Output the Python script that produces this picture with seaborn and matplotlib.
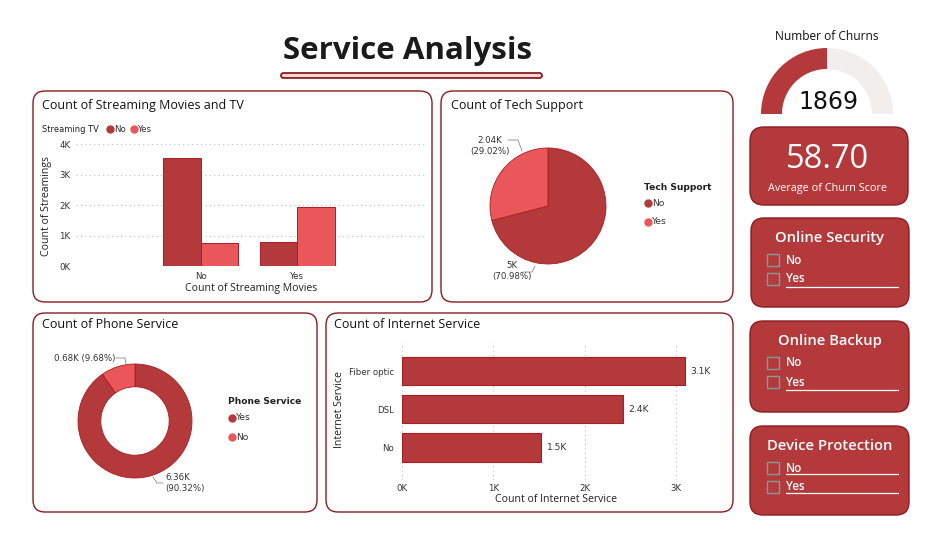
import numpy as np
import pandas as pd
import matplotlib.pyplot as plt
import seaborn as sns
from matplotlib.patches import FancyBboxPatch, Rectangle
from matplotlib.ticker import FuncFormatter, FixedLocator

# Datos
movies = ["No", "No", "Yes", "Yes"]
stream_tv = ["No", "Yes", "No", "Yes"]
stream_counts = [3544, 758, 800, 1941]

tech_labels = ["No", "Yes"]
tech_counts = [4999, 2044]
tech_text = ["5K\n(70.98%)", "2.04K\n(29.02%)"]

phone_labels = ["Yes", "No"]
phone_counts = [6361, 682]

internet_labels = ["Fiber optic", "DSL", "No"]
internet_counts = [3096, 2421, 1526]

churns = 1869
churn_max = 3738
churn_score = 58.70

slicers = [("Online Security", ["No", "Yes"]),
           ("Online Backup", ["No", "Yes"]),
           ("Device Protection", ["No", "Yes"])]

# Colores
DARK = "#B4393B"
LIGHT = "#E9575A"
EDGE = "#A81E22"
BORDER = "#8A1C1E"
GAUGE_BG = "#F1EFED"

sns.set_theme(style="white")
plt.rcParams["font.family"] = ["Open Sans", "DejaVu Sans"]

W, H = 937, 543
fig = plt.figure(figsize=(W / 100, H / 100), dpi=100)
fig.patch.set_facecolor("white")

# capa de fondo en pixeles
bg = fig.add_axes([0, 0, 1, 1])
bg.set_xlim(0, W)
bg.set_ylim(H, 0)
bg.axis("off")


def px_axes(x0, y0, x1, y1):
    ax = fig.add_axes([x0 / W, 1 - y1 / H, (x1 - x0) / W, (y1 - y0) / H])
    ax.set_facecolor("none")
    return ax


def panel(x0, y0, x1, y1, fc="white", ec=BORDER, r=12):
    bg.add_patch(FancyBboxPatch((x0, y0), x1 - x0, y1 - y0,
                                boxstyle=f"round,pad=0,rounding_size={r}",
                                fc=fc, ec=ec, lw=1.0))


def kfmt(v, pos=None):
    return f"{int(round(v / 1000))}K"


small = dict(fontsize=6.2, family="DejaVu Sans", color="#333333")
axis_title = dict(fontsize=7.6, color="#222222")
ptitle = dict(fontsize=9.0, color="#111111", va="center")

# Titulo
bg.text(408, 51, "Service Analysis", ha="center", va="center",
        fontsize=22.5, fontweight="bold", color="#1a1a1a")
bg.add_patch(FancyBboxPatch((281, 73), 261, 5, boxstyle="round,pad=0,rounding_size=2.5",
                            fc="#F6D6D6", ec=BORDER, lw=1.3))

# Paneles
panel(33, 91, 432, 302)
panel(441, 91, 733, 302)
panel(33, 313, 317, 512)
panel(326, 313, 733, 512)

# ---- Streaming Movies and TV
bg.text(42, 106, "Count of Streaming Movies and TV", **ptitle)
bg.text(42, 129, "Streaming TV", va="center", fontsize=6.0, color="#222222",
        family="DejaVu Sans")
for xx, lab, col in [(110, "No", DARK), (134, "Yes", LIGHT)]:
    bg.plot(xx, 129, "o", ms=5, color=col)
    bg.text(xx + 4, 129, lab, va="center", **small)

df_st = pd.DataFrame({"Movies": movies, "TV": stream_tv, "Count": stream_counts})
ax1 = px_axes(76, 144, 425, 266)
sns.barplot(data=df_st, x="Movies", y="Count", hue="TV", palette=[DARK, LIGHT],
            saturation=1, width=0.77, edgecolor=EDGE, linewidth=0.7, legend=False, ax=ax1)
ax1.set_xlim(-1.29, 2.32)
ax1.set_ylim(0, 4000)
ax1.yaxis.set_major_locator(FixedLocator([0, 1000, 2000, 3000, 4000]))
ax1.yaxis.set_major_formatter(FuncFormatter(kfmt))
ax1.yaxis.grid(True, linestyle=(0, (1, 3)), color="#bdbdbd", lw=0.8)
ax1.set_axisbelow(True)
for s in ax1.spines.values():
    s.set_visible(False)
ax1.tick_params(length=0, pad=4, labelsize=6.2)
for t in ax1.get_xticklabels() + ax1.get_yticklabels():
    t.set_family("DejaVu Sans")
    t.set_color("#333333")
ax1.set_xlabel("")
ax1.set_ylabel("")
bg.text(251, 289, "Count of Streaming Movies", ha="center", va="center", **axis_title)
bg.text(47, 206, "Count of Streamings", ha="center", va="center", rotation=90, **axis_title)

# ---- Tech Support
bg.text(451, 106, "Count of Tech Support", **ptitle)
ax2 = px_axes(490, 148, 606, 264)
ax2.pie(tech_counts, colors=[DARK, LIGHT], startangle=90, counterclock=False,
        wedgeprops=dict(edgecolor=EDGE, linewidth=0.6))
ax2.set_xlim(-1, 1)
ax2.set_ylim(-1, 1)
bg.text(490, 146, tech_text[1], ha="center", va="center", linespacing=1.3, **small)
bg.plot([508, 518, 522], [140, 140, 151], color="#888888", lw=0.6)
bg.text(512, 271, tech_text[0], ha="center", va="center", linespacing=1.3, **small)
bg.plot([523, 532, 535], [272, 272, 266], color="#888888", lw=0.6)
bg.text(644, 187, "Tech Support", va="center", fontsize=6.6, color="#222222",
        family="DejaVu Sans", fontweight="bold")
for yy, lab, col in [(203, tech_labels[0], DARK), (222, tech_labels[1], LIGHT)]:
    bg.plot(648, yy, "o", ms=5, color=col)
    bg.text(652, yy, lab, va="center", fontsize=6.6, family="DejaVu Sans", color="#333333")

# ---- Phone Service
bg.text(42, 324, "Count of Phone Service", **ptitle)
ax3 = px_axes(78, 364, 192, 478)
ax3.pie(phone_counts, colors=[DARK, LIGHT], startangle=90, counterclock=False,
        wedgeprops=dict(width=0.4, edgecolor=EDGE, linewidth=0.6))
ax3.set_xlim(-1, 1)
ax3.set_ylim(-1, 1)
pct = [c / sum(phone_counts) * 100 for c in phone_counts]
bg.text(85, 358, f"{phone_counts[1] / 1000:.2f}K ({pct[1]:.2f}%)", ha="center", va="center", **small)
bg.plot([116, 125, 126], [358, 358, 364], color="#888888", lw=0.6)
bg.text(165, 483, f"{phone_counts[0] / 1000:.2f}K\n({pct[0]:.2f}%)", ha="left", va="center",
        linespacing=1.3, **small)
bg.plot([153, 157, 163], [477, 483, 483], color="#888888", lw=0.6)
bg.text(228, 402, "Phone Service", va="center", fontsize=6.6, color="#222222",
        family="DejaVu Sans", fontweight="bold")
for yy, lab, col in [(418, phone_labels[0], DARK), (437, phone_labels[1], LIGHT)]:
    bg.plot(232, yy, "o", ms=5, color=col)
    bg.text(236, yy, lab, va="center", fontsize=6.6, family="DejaVu Sans", color="#333333")

# ---- Internet Service
bg.text(334, 324, "Count of Internet Service", **ptitle)
df_in = pd.DataFrame({"Service": internet_labels, "Count": internet_counts})
ax4 = px_axes(402, 342, 705, 480)
sns.barplot(data=df_in, x="Count", y="Service", orient="h", color=DARK, saturation=1,
            width=0.74, edgecolor=EDGE, linewidth=0.8, ax=ax4)
ax4.set_xlim(0, 3319)
ax4.set_ylim(2.85, -0.76)
ax4.xaxis.set_major_locator(FixedLocator([0, 1000, 2000, 3000]))
ax4.xaxis.set_major_formatter(FuncFormatter(kfmt))
ax4.xaxis.grid(True, linestyle=(0, (1, 3)), color="#bdbdbd", lw=0.8)
ax4.set_axisbelow(True)
for s in ax4.spines.values():
    s.set_visible(False)
ax4.tick_params(length=0, pad=3, labelsize=6.2)
ax4.tick_params(axis="y", pad=6)
for t in ax4.get_xticklabels() + ax4.get_yticklabels():
    t.set_family("DejaVu Sans")
    t.set_color("#333333")
ax4.bar_label(ax4.containers[0], labels=[f"{v / 1000:.1f}K" for v in internet_counts],
              padding=4, fontsize=6.6, family="DejaVu Sans", color="#333333")
ax4.set_xlabel("")
ax4.set_ylabel("")
bg.text(556, 500, "Count of Internet Service", ha="center", va="center", **axis_title)
bg.text(340, 410, "Internet Service", ha="center", va="center", rotation=90, **axis_title)

# ---- Gauge
bg.text(827, 36, "Number of Churns", ha="center", va="center", fontsize=8.6, color="#111111")
ax5 = px_axes(761, 48, 893, 180)
ax5.pie([churns, churn_max - churns, churn_max], colors=[DARK, GAUGE_BG, "none"],
        startangle=180, counterclock=False, wedgeprops=dict(width=21 / 66, linewidth=0))
ax5.set_xlim(-1, 1)
ax5.set_ylim(-1, 1)
bg.text(828, 102, f"{churns}", ha="center", va="center", fontsize=17,
        color="#111111", family=["DejaVu Sans Condensed", "DejaVu Sans"])

# ---- Card
panel(750, 127, 908, 205, fc=DARK, ec=BORDER, r=14)
bg.text(828, 160, f"{churn_score:.2f}", ha="center", va="center", fontsize=23.5, color="white")
bg.text(828, 188, "Average of Churn Score", ha="center", va="center", fontsize=7.8, color="white")

# ---- Slicers
slicer_boxes = [(751, 218, 909, 307), (750, 321, 909, 412), (750, 426, 909, 515)]
for (title, items), (x0, y0, x1, y1) in zip(slicers, slicer_boxes):
    panel(x0, y0, x1, y1, fc=DARK, ec=BORDER, r=13)
    bg.text(830, y0 + 20, title, ha="center", va="center", fontsize=10.6,
            fontweight="semibold", color="white")
    for i, it in enumerate(items):
        yy = y0 + 42 + i * 19
        bg.add_patch(Rectangle((767, yy - 6), 12, 12, fc="none", ec="#7e9d9b", lw=1.0))
        bg.text(786, yy, it, va="center", fontsize=8.4, fontweight="semibold", color="white")
    uy = [y0 + 69] if title != "Device Protection" else [y0 + 48, y0 + 67]
    for u in uy:
        bg.plot([786, 898], [u, u], color="white", lw=0.9)

fig.savefig("out.png", dpi=100, facecolor="white")
